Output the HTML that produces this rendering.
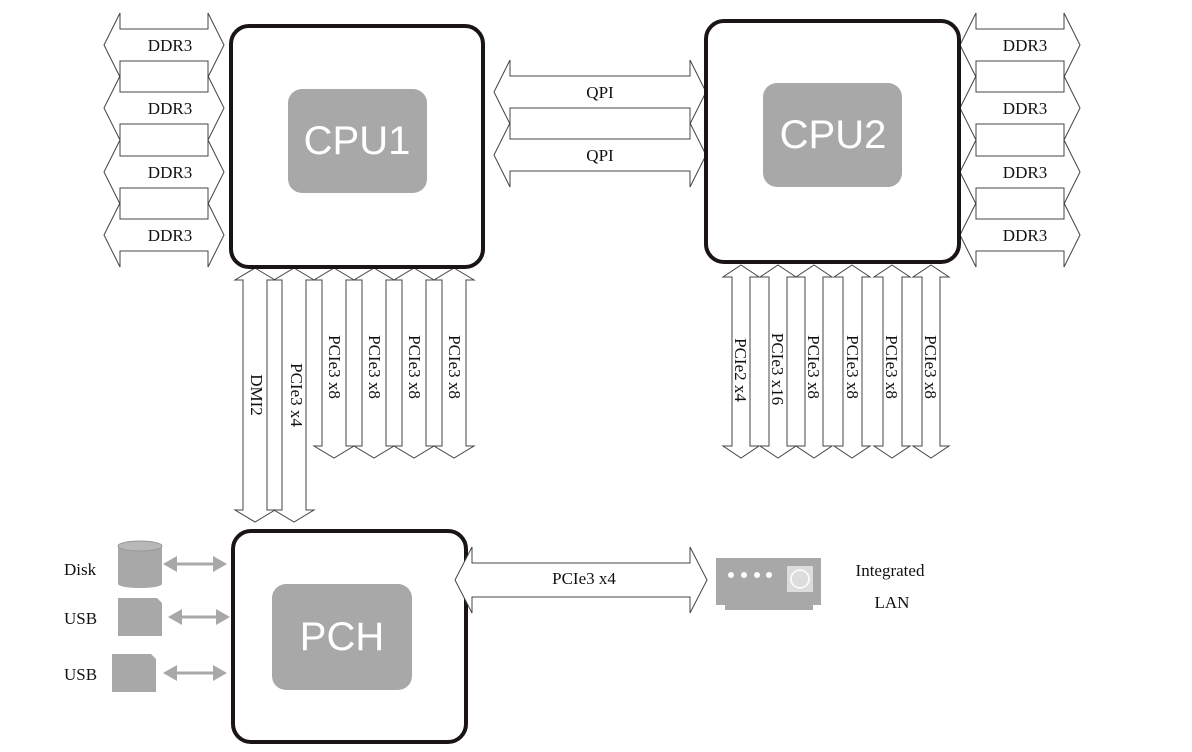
<!DOCTYPE html>
<html><head><meta charset="utf-8"><style>
html,body{margin:0;padding:0;background:#fff;}
svg{display:block;}
.t{font-family:"Liberation Serif",serif;font-size:17px;fill:#111;}
.a{fill:#fff;stroke:#444;stroke-width:1;}
.big{font-family:"Liberation Sans",sans-serif;font-size:40px;fill:#fff;}
</style></head><body>
<svg width="1192" height="752" viewBox="0 0 1192 752" xmlns="http://www.w3.org/2000/svg">
<!-- Left DDR arrows -->
<polygon class="a" points="104,45 120,13 120,29 208,29 208,13 224,45 208,77 208,61 120,61 120,77"/>
<polygon class="a" points="104,108 120,76 120,92 208,92 208,76 224,108 208,140 208,124 120,124 120,140"/>
<polygon class="a" points="104,172 120,140 120,156 208,156 208,140 224,172 208,204 208,188 120,188 120,204"/>
<polygon class="a" points="104,235 120,203 120,219 208,219 208,203 224,235 208,267 208,251 120,251 120,267"/>
<text class="t" x="170" y="51" text-anchor="middle">DDR3</text>
<text class="t" x="170" y="114" text-anchor="middle">DDR3</text>
<text class="t" x="170" y="178" text-anchor="middle">DDR3</text>
<text class="t" x="170" y="241" text-anchor="middle">DDR3</text>
<!-- Right DDR -->
<polygon class="a" points="960,45 976,13 976,29 1064,29 1064,13 1080,45 1064,77 1064,61 976,61 976,77"/>
<polygon class="a" points="960,108 976,76 976,92 1064,92 1064,76 1080,108 1064,140 1064,124 976,124 976,140"/>
<polygon class="a" points="960,172 976,140 976,156 1064,156 1064,140 1080,172 1064,204 1064,188 976,188 976,204"/>
<polygon class="a" points="960,235 976,203 976,219 1064,219 1064,203 1080,235 1064,267 1064,251 976,251 976,267"/>
<text class="t" x="1025" y="51" text-anchor="middle">DDR3</text>
<text class="t" x="1025" y="114" text-anchor="middle">DDR3</text>
<text class="t" x="1025" y="178" text-anchor="middle">DDR3</text>
<text class="t" x="1025" y="241" text-anchor="middle">DDR3</text>
<!-- QPI -->
<polygon class="a" points="494,92 510,60 510,76 690,76 690,60 706,92 690,124 690,108 510,108 510,124"/>
<polygon class="a" points="494,155 510,123 510,139 690,139 690,123 706,155 690,187 690,171 510,171 510,187"/>
<text class="t" x="600" y="98" text-anchor="middle">QPI</text>
<text class="t" x="600" y="161" text-anchor="middle">QPI</text>
<!-- CPU1 vertical arrows -->
<polygon class="a" points="255,268 275,280 267,280 267,510 275,510 255,522 235,510 243,510 243,280 235,280"/>
<polygon class="a" points="294,268 314,280 306,280 306,510 314,510 294,522 274,510 282,510 282,280 274,280"/>
<polygon class="a" points="334,268 354,280 346,280 346,446 354,446 334,458 314,446 322,446 322,280 314,280"/>
<polygon class="a" points="374,268 394,280 386,280 386,446 394,446 374,458 354,446 362,446 362,280 354,280"/>
<polygon class="a" points="414,268 434,280 426,280 426,446 434,446 414,458 394,446 402,446 402,280 394,280"/>
<polygon class="a" points="454,268 474,280 466,280 466,446 474,446 454,458 434,446 442,446 442,280 434,280"/>
<text class="t" transform="translate(251,395) rotate(90)" text-anchor="middle">DMI2</text>
<text class="t" transform="translate(291,395) rotate(90)" text-anchor="middle">PCIe3 x4</text>
<text class="t" transform="translate(329,367) rotate(90)" text-anchor="middle">PCIe3 x8</text>
<text class="t" transform="translate(369,367) rotate(90)" text-anchor="middle">PCIe3 x8</text>
<text class="t" transform="translate(409,367) rotate(90)" text-anchor="middle">PCIe3 x8</text>
<text class="t" transform="translate(449,367) rotate(90)" text-anchor="middle">PCIe3 x8</text>
<!-- CPU2 vertical arrows -->
<polygon class="a" points="741,265 759,277 750,277 750,446 759,446 741,458 723,446 732,446 732,277 723,277"/>
<polygon class="a" points="778,265 796,277 787,277 787,446 796,446 778,458 760,446 769,446 769,277 760,277"/>
<polygon class="a" points="814,265 832,277 823,277 823,446 832,446 814,458 796,446 805,446 805,277 796,277"/>
<polygon class="a" points="852,265 870,277 862,277 862,446 870,446 852,458 834,446 843,446 843,277 834,277"/>
<polygon class="a" points="892,265 910,277 902,277 902,446 910,446 892,458 874,446 883,446 883,277 874,277"/>
<polygon class="a" points="931,265 949,277 940,277 940,446 949,446 931,458 913,446 922,446 922,277 913,277"/>
<text class="t" transform="translate(735,370) rotate(90)" text-anchor="middle">PCIe2 x4</text>
<text class="t" transform="translate(772,369) rotate(90)" text-anchor="middle">PCIe3 x16</text>
<text class="t" transform="translate(808,367) rotate(90)" text-anchor="middle">PCIe3 x8</text>
<text class="t" transform="translate(847,367) rotate(90)" text-anchor="middle">PCIe3 x8</text>
<text class="t" transform="translate(886,367) rotate(90)" text-anchor="middle">PCIe3 x8</text>
<text class="t" transform="translate(925,367) rotate(90)" text-anchor="middle">PCIe3 x8</text>
<!-- CPU boxes -->
<rect x="231" y="26" width="252" height="241" rx="18" fill="#fff" stroke="#1a1414" stroke-width="4"/>
<rect x="288" y="89" width="139" height="104" rx="14" fill="#a8a8a8"/>
<text class="big" x="357" y="154" text-anchor="middle">CPU1</text>
<rect x="706" y="21" width="253" height="241" rx="18" fill="#fff" stroke="#1a1414" stroke-width="4"/>
<rect x="763" y="83" width="139" height="104" rx="14" fill="#a8a8a8"/>
<text class="big" x="833" y="148" text-anchor="middle">CPU2</text>
<!-- PCH -->
<rect x="233" y="531" width="233" height="211" rx="18" fill="#fff" stroke="#1a1414" stroke-width="4"/>
<rect x="272" y="584" width="140" height="106" rx="14" fill="#a8a8a8"/>
<text class="big" x="342" y="650" text-anchor="middle">PCH</text>
<!-- PCIe3 x4 to LAN -->
<polygon class="a" points="455,580 472,547 472,563 690,563 690,547 707,580 690,613 690,597 472,597 472,613"/>
<text class="t" x="584" y="584" text-anchor="middle">PCIe3 x4</text>
<rect x="716" y="558" width="105" height="47" fill="#a8a8a8"/>
<rect x="725" y="605" width="88" height="5" fill="#a8a8a8"/>
<circle cx="731" cy="575" r="3" fill="#fff"/><circle cx="744" cy="575" r="3" fill="#fff"/>
<circle cx="757" cy="575" r="3" fill="#fff"/><circle cx="769" cy="575" r="3" fill="#fff"/>
<rect x="787" y="566" width="26" height="26" fill="#ddd"/>
<circle cx="800" cy="579" r="9" fill="none" stroke="#fff" stroke-width="1.5"/>
<text class="t" x="890" y="576" text-anchor="middle">Integrated</text>
<text class="t" x="892" y="608" text-anchor="middle">LAN</text>
<!-- Left peripherals -->
<text class="t" x="64" y="575">Disk</text>
<text class="t" x="64" y="624">USB</text>
<text class="t" x="64" y="680">USB</text>
<rect x="118" y="546" width="44" height="38" fill="#a8a8a8"/>
<ellipse cx="140" cy="546" rx="22" ry="5" fill="#b8b8b8" stroke="#999"/>
<ellipse cx="140" cy="584" rx="22" ry="4" fill="#a8a8a8"/>
<polygon points="118,598 157,598 162,603 162,636 118,636" fill="#a8a8a8"/>
<polygon points="112,654 151,654 156,659 156,692 112,692" fill="#a8a8a8"/>
<g fill="#a8a8a8" stroke="#a8a8a8" stroke-width="3">
<line x1="170" y1="564" x2="220" y2="564"/>
<line x1="175" y1="617" x2="222" y2="617"/>
<line x1="170" y1="673" x2="220" y2="673"/>
</g>
<g fill="#a8a8a8">
<polygon points="163,564 177,556 177,572"/><polygon points="227,564 213,556 213,572"/>
<polygon points="168,617 182,609 182,625"/><polygon points="230,617 216,609 216,625"/>
<polygon points="163,673 177,665 177,681"/><polygon points="227,673 213,665 213,681"/>
</g>
</svg>
</body></html>
